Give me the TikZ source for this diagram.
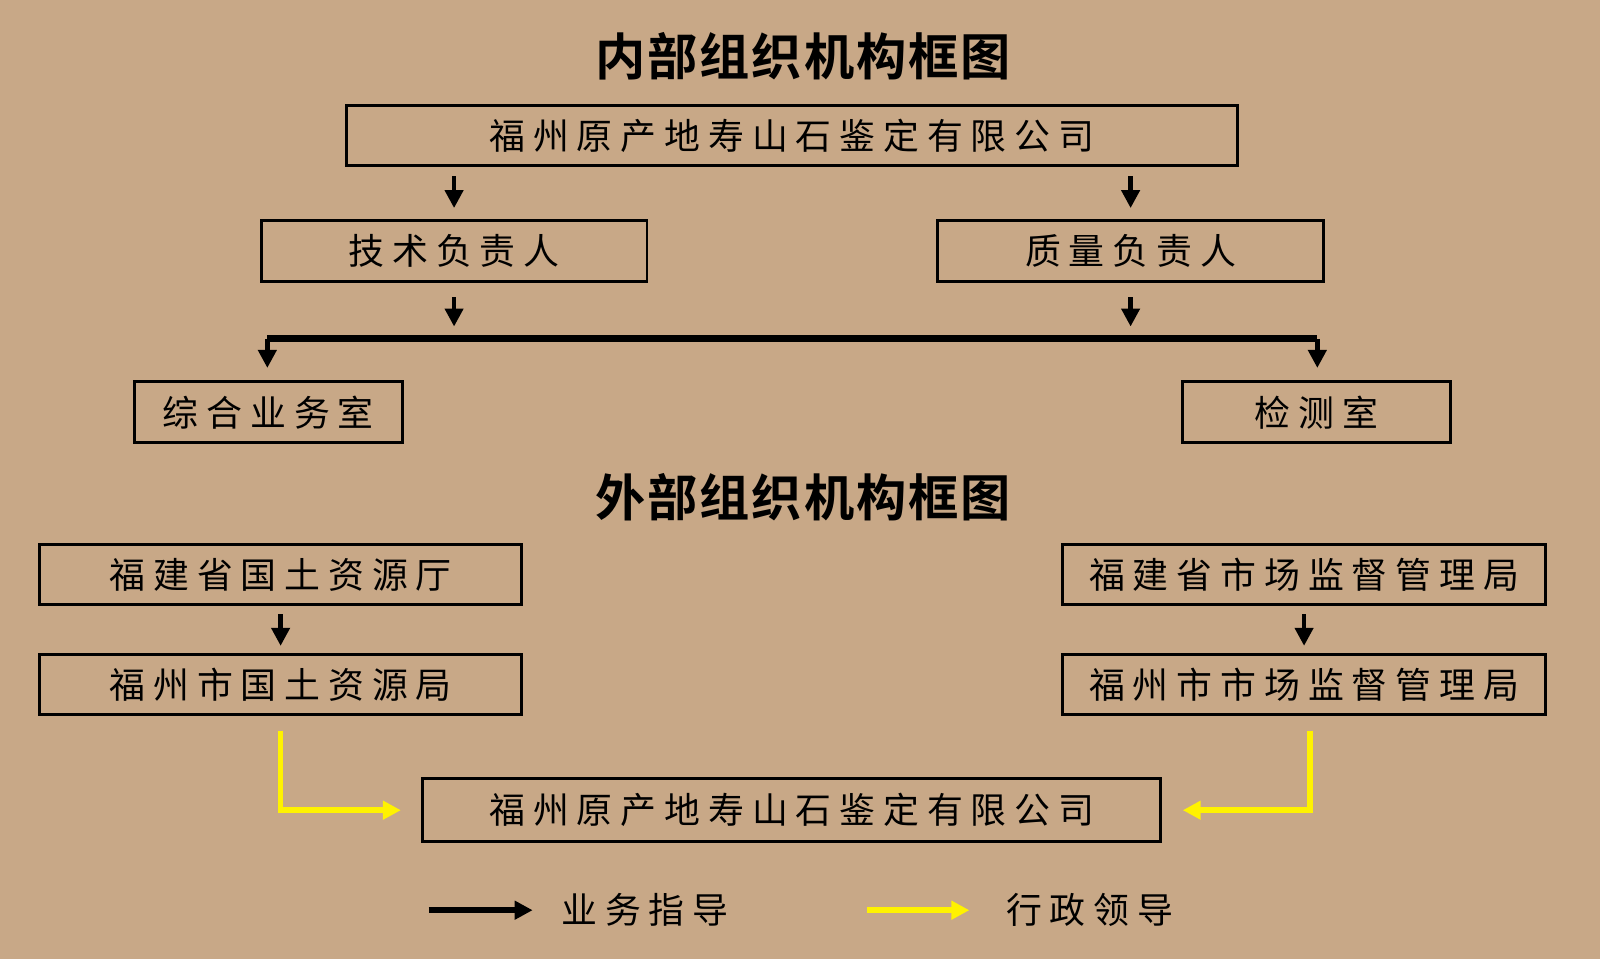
\documentclass[tikz,border=0pt]{standalone}
\usepackage{fontspec}
\usetikzlibrary{arrows.meta}
\newfontfamily\cjkbox[LetterSpace=22]{Noto Sans CJK SC}
\newfontfamily\cjktitle[LetterSpace=4]{Noto Sans CJK SC Bold}
\definecolor{bgtan}{HTML}{C8A887}
\definecolor{leadyellow}{HTML}{FFF200}
\begin{document}
\begin{tikzpicture}[x=0.01cm,y=-0.01cm,
  orgbox/.style={draw=black,line width=0.8pt,inner sep=0pt,font=\cjkbox\fontsize{10pt}{12pt}\selectfont},
  titletext/.style={font=\cjktitle\fontsize{14pt}{16pt}\selectfont},
  guide/.style={line width=1.2pt,-{Triangle[length=5pt,width=5pt]}},
  admin/.style={draw=leadyellow,line width=1.6pt,-{Triangle[length=5pt,width=5pt]}}]
  \fill[bgtan] (0,0) rectangle (1568,940);

  \node[titletext] (innerTitle) at (787,55) {内部组织机构框图};
  \node[orgbox,minimum width=8.73cm,minimum height=0.59cm] (company) at (776,133) {福州原产地寿山石鉴定有限公司};
  \node[orgbox,minimum width=3.78cm,minimum height=0.6cm] (techHead) at (445,246) {技术负责人};
  \node[orgbox,minimum width=3.78cm,minimum height=0.6cm] (qualityHead) at (1108,246) {质量负责人};
  \node[orgbox,minimum width=2.62cm,minimum height=0.6cm] (generalOffice) at (263,404) {综合业务室};
  \node[orgbox,minimum width=2.62cm,minimum height=0.6cm] (testLab) at (1290,404) {检测室};

  \coordinate (barLeft) at (262,332);
  \coordinate (barRight) at (1291,332);
  \coordinate (barTech) at (445,320);
  \coordinate (barQuality) at (1108,320);

  \draw[guide] (company.south -| techHead) ++(0,9) -- ++(0,31);
  \draw[guide] (company.south -| qualityHead) ++(0,9) -- ++(0,31);
  \draw[guide] (techHead.south) ++(0,14) -- (barTech);
  \draw[guide] (qualityHead.south) ++(0,14) -- (barQuality);
  \draw[line width=2pt] (barLeft) -- (barRight);
  \draw[guide] (barLeft) -- ([yshift=0.12cm]generalOffice.north -| barLeft);
  \draw[guide] (barRight) -- ([yshift=0.12cm]testLab.north -| barRight);

  \node[titletext] (outerTitle) at (787,487) {外部组织机构框图};
  \node[orgbox,minimum width=4.72cm,minimum height=0.59cm] (provLand) at (275,563) {福建省国土资源厅};
  \node[orgbox,minimum width=4.72cm,minimum height=0.59cm] (cityLand) at (275,671) {福州市国土资源局};
  \node[orgbox,minimum width=4.73cm,minimum height=0.59cm] (provMarket) at (1278,563) {福建省市场监督管理局};
  \node[orgbox,minimum width=4.73cm,minimum height=0.59cm] (cityMarket) at (1278,671) {福州市市场监督管理局};
  \node[orgbox,minimum width=7.23cm,minimum height=0.62cm] (companyOuter) at (776,794) {福州原产地寿山石鉴定有限公司};

  \draw[guide] (provLand.south) ++(0,8) -- ++(0,31);
  \draw[guide] (provMarket.south) ++(0,8) -- ++(0,31);
  \draw[admin] (cityLand.south) ++(0,14) |- ([xshift=-0.2cm]companyOuter.west);
  \draw[admin] ([xshift=0.06cm]cityMarket.south) ++(0,14) |- ([xshift=0.2cm]companyOuter.east);

  % legend
  \coordinate (guideStart) at (420,892);
  \coordinate (guideEnd) at (522,892);
  \coordinate (adminStart) at (850,892);
  \coordinate (adminEnd) at (950,892);
  \draw[guide,line width=1.8pt] (guideStart) -- (guideEnd);
  \node[font=\cjkbox\fontsize{10pt}{12pt}\selectfont] (guideLabel) at (632,892) {业务指导};
  \draw[admin] (adminStart) -- (adminEnd);
  \node[font=\cjkbox\fontsize{10pt}{12pt}\selectfont] (adminLabel) at (1068,892) {行政领导};
\end{tikzpicture}
\end{document}
